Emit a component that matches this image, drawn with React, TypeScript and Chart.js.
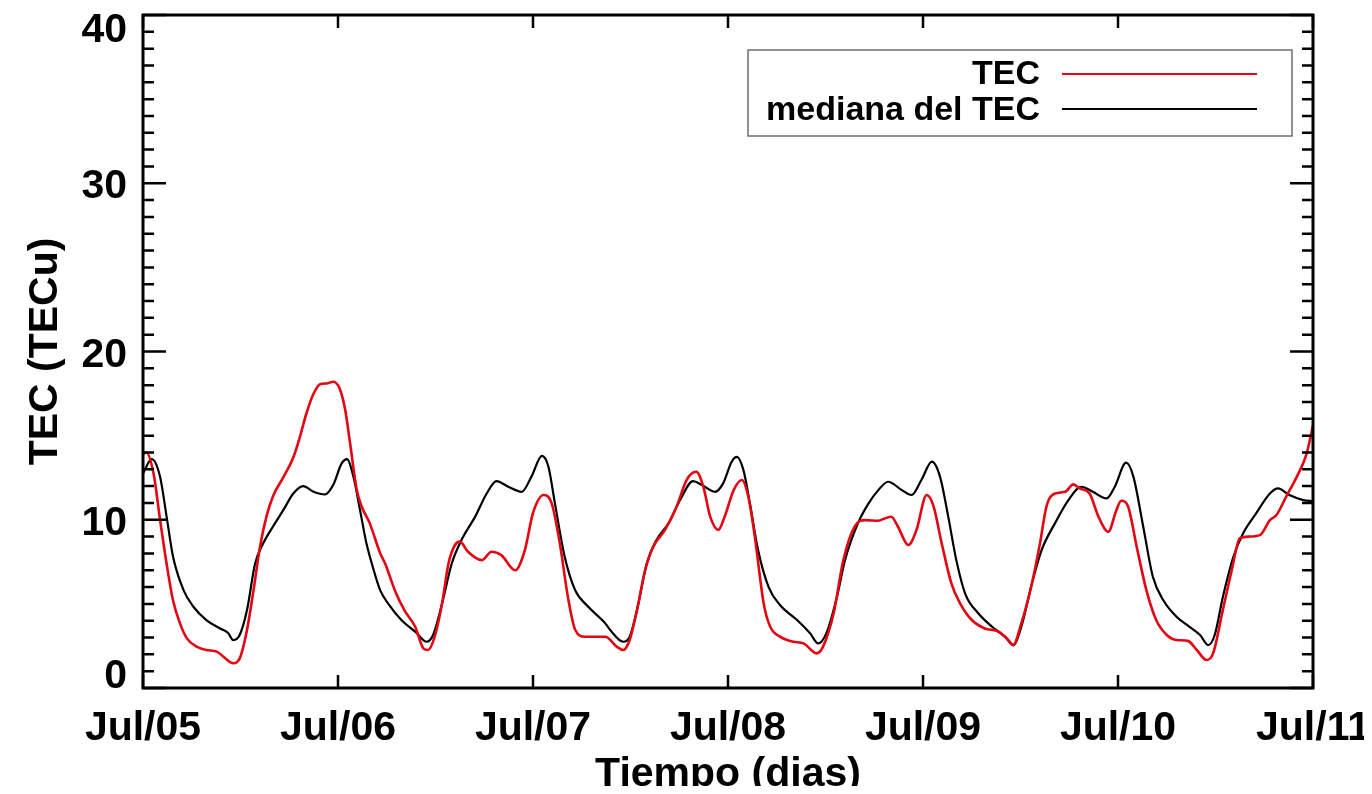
import React, { useEffect, useRef } from "react";
import { Chart, registerables } from "chart.js";

Chart.register(...registerables);

// Time axis: hours since Jul/05 00:00
const dayLabels = ["Jul/05", "Jul/06", "Jul/07", "Jul/08", "Jul/09", "Jul/10", "Jul/11"];
const yTickValues = [0, 10, 20, 30, 40];

const tecHours = [
  0, 0.4, 1.3, 2.1, 2.9, 3.7, 4.55, 5.4, 6.6, 7.8, 9.1, 9.9, 11.1, 11.9, 12.8, 13.6, 14.4, 15.2, 16.0, 17.3,
  18.5, 19.3, 20.1, 21.0, 21.8, 22.6, 23.4, 24.2, 24.9, 25.5, 26.3, 26.9, 27.9, 29.2, 29.8, 31.0, 32.2, 33.5,
  34.5, 35.1, 35.9, 36.8, 37.6, 38.4, 39.0, 40.0, 41.7, 42.9, 44.1, 45.8, 47.0, 48.0, 49.3, 50.3, 51.3, 52.3,
  53.2, 54.4, 56.9, 58.3, 59.1, 59.9, 60.8, 61.8, 62.8, 64.25, 65.7, 66.9, 68.1, 68.97, 69.8, 70.8, 71.6,
  72.7, 73.7, 74.5, 75.3, 76.4, 77.2, 78.4, 80.0, 81.3, 82.9, 83.7, 85.0, 86.2, 87.6, 88.9, 90.5, 91.3, 92.1,
  92.9, 94.2, 95.2, 96.45, 97.3, 98.3, 99.5, 100.6, 102.0, 103.6, 105.3, 106.5, 107.1, 108.1, 109.4, 110.4,
  111.2, 112.25, 113.5, 114.5, 115.3, 116.5, 117.6, 118.8, 119.8, 120.4, 121.25, 122.3, 123.5, 124.7, 126.0,
  127.2, 128.6, 129.7, 130.9, 131.7, 132.9, 134.0, 135.0, 136.2, 137.5, 138.7, 139.5, 140.7, 142.0, 143.2, 144.0,
];
const tecValues = [
  13.9, 14.0, 12.75, 10.0, 7.4, 5.2, 3.84, 2.95, 2.46, 2.26, 2.16, 1.86, 1.47, 1.76, 3.45, 5.8, 8.4, 10.2, 11.4, 12.55,
  13.7, 14.9, 16.3, 17.5, 18.06, 18.1, 18.2, 17.8, 16.5, 14.5, 11.8, 10.8, 9.8, 8.0, 7.4, 5.8, 4.6, 3.64,
  2.36, 2.26, 3.05, 5.0, 7.4, 8.5, 8.7, 8.1, 7.6, 8.1, 7.9, 7.0, 8.2, 10.4, 11.47, 10.97, 8.6, 5.4,
  3.45, 3.05, 3.05, 2.46, 2.26, 2.85, 4.63, 7.0, 8.4, 9.4, 10.8, 12.36, 12.85, 11.96, 10.2, 9.4, 10.2,
  11.76, 12.36, 11.37, 9.0, 5.0, 3.64, 3.05, 2.75, 2.65, 2.06, 2.46, 4.44, 7.6, 9.6, 9.98, 9.94, 10.08, 10.18,
  9.6, 8.5, 9.4, 11.47, 10.8, 8.6, 6.2, 5.0, 4.04, 3.54, 3.35, 2.85, 2.55, 3.84, 6.2, 8.6,
  10.8, 11.56, 11.66, 12.1, 11.86, 11.56, 10.18, 9.29, 10.57, 11.13, 10.77, 8.4, 5.8, 4.04, 3.15,
  2.85, 2.8, 2.26, 1.66, 2.06, 4.63, 7.0, 8.9, 9.0, 9.1, 9.98, 10.28, 11.37, 12.55, 13.9, 15.6,
];

const medHours = [
  0, 1.07, 2.1, 2.9, 3.7, 5.0, 6.2, 7.8, 9.5, 10.5, 11.1, 11.9, 12.8, 13.8, 14.8, 16.0, 17.3, 18.5, 19.7, 21.0,
  22.4, 23.4, 24.45, 25.1, 25.9, 26.7, 27.5, 28.4, 29.2, 30.2, 31.8, 33.5, 34.9, 35.7, 36.8, 38.0, 39.2, 40.9,
  42.3, 43.5, 44.96, 46.6, 47.8, 49.1, 49.9, 50.7, 51.9, 53.2, 54.8, 56.9, 57.5, 59.1, 59.9, 60.8, 62.0, 63.2,
  64.7, 66.1, 67.7, 68.8, 70.4, 71.4, 72.45, 73.1, 73.9, 74.7, 75.7, 77.0, 78.4, 80.5, 82.1, 83.1, 84.1, 85.4,
  86.4, 88.0, 89.3, 90.5, 91.7, 93.4, 94.6, 95.8, 97.1, 98.1, 99.1, 100.1, 101.2, 102.8, 104.5, 106.1, 107.1,
  108.1, 109.4, 110.6, 112.25, 113.9, 115.5, 116.9, 118.6, 119.6, 121.0, 121.9, 123.1, 124.3, 125.6, 127.2,
  128.8, 130.1, 131.1, 131.9, 132.9, 134.2, 135.4, 137.0, 138.7, 139.7, 141.1, 142.8, 144.0,
];
const medValues = [
  12.75, 13.6, 12.55, 10.2, 7.8, 5.8, 4.83, 4.04, 3.54, 3.25, 2.85, 3.15, 4.63, 7.4, 8.6, 9.6, 10.6, 11.56, 12.0, 11.66,
  11.5, 12.06, 13.35, 13.6, 12.55, 10.6, 8.6, 7.0, 5.8, 5.0, 4.04, 3.35, 2.75, 3.15, 5.0, 7.4, 8.8, 10.2,
  11.56, 12.3, 11.96, 11.66, 12.55, 13.8, 13.15, 10.97, 7.8, 5.8, 4.83, 3.84, 3.45, 2.75, 3.05, 4.63, 7.4, 8.8,
  9.8, 11.17, 12.3, 12.06, 11.66, 12.16, 13.45, 13.74, 12.95, 10.97, 8.2, 6.0, 4.93, 4.04, 3.25, 2.65, 3.25, 5.4,
  7.6, 9.8, 10.97, 11.76, 12.26, 11.76, 11.47, 12.36, 13.45, 12.55, 10.2, 7.6, 5.6, 4.44, 3.64, 3.05, 2.55,
  3.64, 6.2, 8.2, 9.8, 11.17, 11.96, 11.66, 11.27, 11.96, 13.39, 12.55, 9.6, 6.6, 5.2, 4.24,
  3.64, 3.15, 2.55, 3.15, 5.4, 7.8, 9.2, 10.38, 11.56, 11.86, 11.47, 11.17, 11.1,
];

const seriesNames = ["TEC", "mediana del TEC"];
const seriesColors = ["#e30613", "#000000"];
const xTitle = "Tiempo (dias)";
const yTitle = "TEC (TECu)";

const FONT = '"Liberation Sans", Arial, Helvetica, sans-serif';

const framePlugin = {
  id: "idlFrame",
  afterDraw(chart: any) {
    const ctx: CanvasRenderingContext2D = chart.ctx;
    const { left, right, top, bottom } = chart.chartArea;
    const xs = chart.scales.x;
    const ys = chart.scales.y;
    ctx.save();
    ctx.strokeStyle = "#000";
    ctx.fillStyle = "#000";
    // frame
    ctx.lineWidth = 3;
    ctx.strokeRect(left, top, right - left, bottom - top);
    // y ticks (minor every 1, major every 10), inward on both sides
    ctx.lineWidth = 2.5;
    ctx.beginPath();
    for (let v = 0; v <= 40; v++) {
      const py = ys.getPixelForValue(v);
      const len = v % 10 === 0 ? 23 : 11;
      ctx.moveTo(left, py);
      ctx.lineTo(left + len, py);
      ctx.moveTo(right, py);
      ctx.lineTo(right - len, py);
    }
    // x ticks at each day, inward top and bottom
    dayLabels.forEach((_, i) => {
      const px = xs.getPixelForValue(i * 24);
      ctx.moveTo(px, bottom);
      ctx.lineTo(px, bottom - 13);
      ctx.moveTo(px, top);
      ctx.lineTo(px, top + 13);
    });
    ctx.stroke();

    // y tick labels
    ctx.font = `bold 41px ${FONT}`;
    ctx.textAlign = "right";
    ctx.textBaseline = "alphabetic";
    yTickValues.forEach((v) => {
      const py = ys.getPixelForValue(v);
      const base = Math.min(Math.max(py + 15, top + 27), bottom);
      ctx.fillText(String(v), left - 16, base);
    });
    // x tick labels
    ctx.textAlign = "center";
    dayLabels.forEach((lab, i) => {
      const px = xs.getPixelForValue(i * 24);
      ctx.fillText(lab, px, bottom + 52);
    });
    // axis titles
    ctx.fillText(xTitle, (left + right) / 2, bottom + 98);
    ctx.save();
    ctx.translate(left - 86, (top + bottom) / 2);
    ctx.rotate(-Math.PI / 2);
    ctx.fillText(yTitle, 0, 0);
    ctx.restore();

    // legend
    const bx = 740, by = 42, bw = 544, bh = 86;
    ctx.fillStyle = "#fff";
    ctx.fillRect(bx, by, bw, bh);
    ctx.strokeStyle = "#6e6e6e";
    ctx.lineWidth = 1.5;
    ctx.strokeRect(bx, by, bw, bh);
    ctx.font = `bold 34px ${FONT}`;
    ctx.textAlign = "right";
    const rows = [
      { base: 76, lineY: 66 },
      { base: 112, lineY: 101 },
    ];
    chart.data.datasets.forEach((ds: any, i: number) => {
      ctx.fillStyle = "#000";
      ctx.fillText(ds.label, 1032, rows[i].base);
      ctx.strokeStyle = ds.borderColor;
      ctx.lineWidth = 2;
      ctx.beginPath();
      ctx.moveTo(1054, rows[i].lineY);
      ctx.lineTo(1249, rows[i].lineY);
      ctx.stroke();
    });
    ctx.restore();
  },
};

export default function App() {
  const ref = useRef<HTMLCanvasElement>(null);
  useEffect(() => {
    if (!ref.current) return;
    const tec = tecHours.map((h, i) => ({ x: h, y: tecValues[i] }));
    const med = medHours.map((h, i) => ({ x: h, y: medValues[i] }));
    const chart = new Chart(ref.current, {
      type: "line",
      data: {
        datasets: [
          {
            label: seriesNames[0],
            data: tec,
            borderColor: seriesColors[0],
            borderWidth: 2.6,
            pointRadius: 0,
            cubicInterpolationMode: "monotone",
          },
          {
            label: seriesNames[1],
            data: med,
            borderColor: seriesColors[1],
            borderWidth: 2.2,
            pointRadius: 0,
            cubicInterpolationMode: "monotone",
          },
        ],
      },
      options: {
        animation: false,
        responsive: false,
        devicePixelRatio: 1,
        layout: { padding: { left: 135, top: 7, right: 51, bottom: 106 } },
        plugins: { legend: { display: false }, tooltip: { enabled: false } },
        scales: {
          x: { type: "linear", min: 0, max: 144, display: false },
          y: { type: "linear", min: 0, max: 40, display: false },
        },
      },
      plugins: [framePlugin],
    });
    return () => chart.destroy();
  }, []);
  return (
    <div style={{ width: 1356, height: 778, background: "#fff", overflow: "visible" }}>
      <canvas ref={ref} width={1356} height={786} style={{ display: "block" }} />
    </div>
  );
}
